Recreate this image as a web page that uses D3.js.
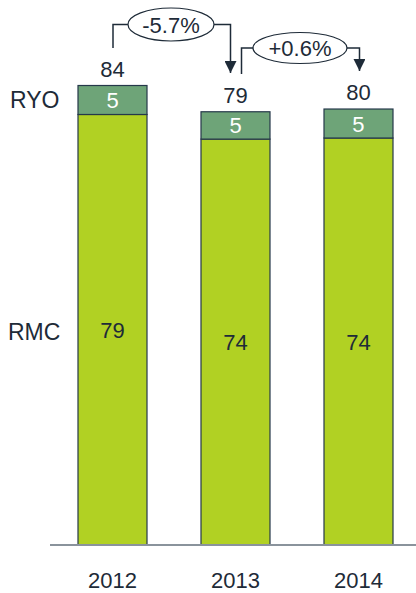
<!DOCTYPE html>
<html><head><meta charset="utf-8">
<script src="https://cdn.jsdelivr.net/npm/d3@7"></script>
<style>html,body{margin:0;padding:0;background:#fff;}svg{display:block;}</style>
</head><body>
<svg id="chart" width="416" height="593"></svg>
<script>
const years = ["2012", "2013", "2014"];
const rmcValues = [78.7, 74.2, 74.4];
const ryoValues = [5.3, 5.0, 5.3];
const rmcLabels = ["79", "74", "74"];
const ryoLabels = ["5", "5", "5"];
const totalLabels = ["84", "79", "80"];
const growthLabels = ["-5.7%", "+0.6%"];

const svg = d3.select("#chart");
const textColor = "#1e2b38";
const font = "'Liberation Sans', Arial, sans-serif";

const x = d3.scaleBand().domain(years).range([78, 393]).paddingInner(0.439).paddingOuter(0);
const y = d3.scaleLinear().domain([0, 84]).range([545, 85.5]);

const data = years.map((yr, i) => ({yr, rmc: rmcValues[i], ryo: ryoValues[i], total: rmcValues[i] + ryoValues[i], i}));

// bars
const g = svg.append("g");
g.selectAll("rect.rmc").data(data).join("rect")
  .attr("x", d => x(d.yr)).attr("width", x.bandwidth())
  .attr("y", d => y(d.rmc)).attr("height", d => y(0) - y(d.rmc))
  .attr("fill", "#b1d123").attr("stroke", "#25384a").attr("stroke-width", 1.2);
g.selectAll("rect.ryo").data(data).join("rect")
  .attr("x", d => x(d.yr)).attr("width", x.bandwidth())
  .attr("y", d => y(d.total)).attr("height", d => y(d.rmc) - y(d.total))
  .attr("fill", "#6ea478").attr("stroke", "#25384a").attr("stroke-width", 1.2);

// axis line
svg.append("line").attr("x1", 50).attr("x2", 416).attr("y1", 545).attr("y2", 545)
  .attr("stroke", "#8a939c").attr("stroke-width", 2);

// labels
const cx = d => x(d.yr) + x.bandwidth() / 2;
g.selectAll("text.rmc").data(data).join("text")
  .attr("x", cx).attr("y", d => (y(0) + y(d.rmc)) / 2 + 8)
  .attr("text-anchor", "middle").attr("font-family", font).attr("font-size", 22)
  .attr("fill", textColor).text((d, i) => rmcLabels[i]);
g.selectAll("text.ryo").data(data).join("text")
  .attr("x", cx).attr("y", d => (y(d.rmc) + y(d.total)) / 2 + 8)
  .attr("text-anchor", "middle").attr("font-family", font).attr("font-size", 22)
  .attr("fill", "#ffffff").text((d, i) => ryoLabels[i]);
g.selectAll("text.tot").data(data).join("text")
  .attr("x", cx).attr("y", d => y(d.total) - 9)
  .attr("text-anchor", "middle").attr("font-family", font).attr("font-size", 22)
  .attr("fill", textColor).text((d, i) => totalLabels[i]);
g.selectAll("text.yr").data(data).join("text")
  .attr("x", cx).attr("y", 588)
  .attr("text-anchor", "middle").attr("font-family", font).attr("font-size", 22)
  .attr("fill", textColor).text(d => d.yr);

// series names
svg.append("text").attr("x", 10).attr("y", 108).attr("font-family", font).attr("font-size", 23)
  .attr("fill", textColor).text("RYO");
svg.append("text").attr("x", 8).attr("y", 340).attr("font-family", font).attr("font-size", 23)
  .attr("fill", textColor).text("RMC");

// growth arrows
const defs = svg.append("defs");
defs.append("marker").attr("id", "ah").attr("viewBox", "0 0 10 10").attr("refX", 10).attr("refY", 5)
  .attr("markerWidth", 12).attr("markerHeight", 12).attr("markerUnits", "userSpaceOnUse").attr("orient", "auto")
  .append("path").attr("d", "M0,0 L10,5 L0,10 Z").attr("fill", "#1e2b38");

const arrows = [
  {from: 0, to: 1, dxFrom: 0.5, dxTo: -5, yTop: 24.5, yStart: 48, yEnd: 73, ecx: 171, rx: 43, ry: 16.5},
  {from: 1, to: 2, dxFrom: 6, dxTo: 1, yTop: 48, yStart: 74, yEnd: 71, ecx: 300, rx: 47, ry: 15.5}
];
arrows.forEach((a, k) => {
  const x0 = cx(data[a.from]) + a.dxFrom;
  const x1 = cx(data[a.to]) + a.dxTo;
  svg.append("path")
    .attr("d", `M${x0},${a.yStart} V${a.yTop} H${x1} V${a.yEnd}`)
    .attr("fill", "none").attr("stroke", "#1e2b38").attr("stroke-width", 1.5)
    .attr("marker-end", "url(#ah)");
  svg.append("ellipse").attr("cx", a.ecx).attr("cy", a.yTop).attr("rx", a.rx).attr("ry", a.ry)
    .attr("fill", "#fff").attr("stroke", "#1e2b38").attr("stroke-width", 1.2);
  svg.append("text").attr("x", a.ecx).attr("y", a.yTop + 8).attr("text-anchor", "middle")
    .attr("font-family", font).attr("font-size", 22).attr("fill", textColor).text(growthLabels[k]);
});
</script>
</body></html>
